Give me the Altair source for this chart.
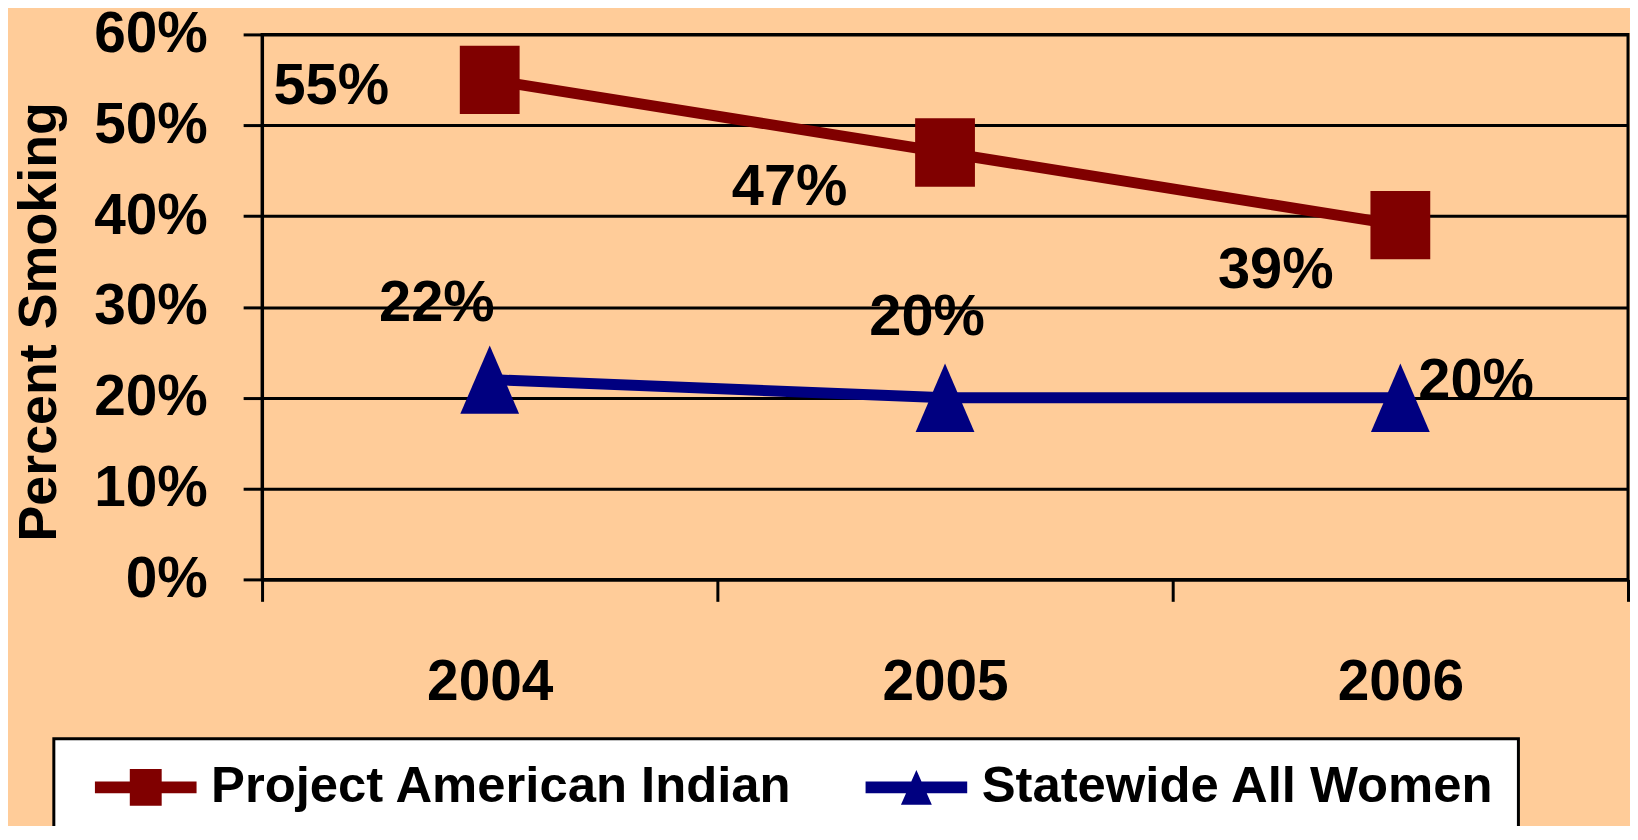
import altair as alt
import pandas as pd

years = ["2004", "2005", "2006"]
series_names = ["Project American Indian", "Statewide All Women"]
project_american_indian = [55, 47, 39]
statewide_all_women = [22, 20, 20]
series_colors = ["#800000", "#000080"]

rows = []
for s, vals in zip(series_names, [project_american_indian, statewide_all_women]):
    for y, v in zip(years, vals):
        rows.append({"Year": y, "Series": s, "Value": v / 100.0, "Label": f"{v}%"})
df = pd.DataFrame(rows)

FONT = "Liberation Sans"

marker_paths = [
    "M-0.875,-1 L0.875,-1 L0.875,1 L-0.875,1 Z",
    "M0,-1 L0.86,1 L-0.86,1 Z",
]
# legend symbols: line + marker (unit = 18.5 px); a degenerate subpath widens the bounds leftwards
legend_paths = [
    "M-3.676,0 L-3.676,0.001 Z "
    "M-2.757,-0.316 L2.757,-0.316 L2.757,0.316 L-2.757,0.316 Z "
    "M-0.865,-1 L0.865,-1 L0.865,1 L-0.865,1 Z",
    "M-3.676,0 L-3.676,0.001 Z "
    "M-2.757,-0.316 L2.757,-0.316 L2.757,0.316 L-2.757,0.316 Z "
    "M0,-0.946 L0.838,0.946 L-0.838,0.946 Z",
]
# label offsets (dx, dy) per series per year
label_offsets = [
    [(-159, 7), (-156, 36), (-125, 46)],
    [(-53, -76), (-18, -80), (76, -16)],
]

x_enc = alt.X(
    "Year:N",
    sort=years,
    scale=alt.Scale(type="band", paddingInner=0, paddingOuter=0),
    axis=alt.Axis(
        title=None,
        labelFont=FONT,
        labelFontSize=57,
        labelFontWeight="bold",
        labelColor="black",
        labelAngle=0,
        labelBaseline="alphabetic",
        labelPadding=99,
        tickBand="extent",
        tickSize=22,
        tickWidth=3,
        tickColor="black",
        domainColor="black",
        domainWidth=3,
        grid=False,
    ),
)
y_enc = alt.Y(
    "Value:Q",
    scale=alt.Scale(domain=[0, 0.6], nice=False),
    axis=alt.Axis(
        title="Percent Smoking",
        titleFont=FONT,
        titleFontSize=54,
        titleFontWeight="bold",
        titleColor="black",
        titleAngle=-90,
        titleAlign="center",
        titleBaseline="alphabetic",
        titleX=-207,
        titleY=288,
        values=[0, 0.1, 0.2, 0.3, 0.4, 0.5, 0.6],
        format=".0%",
        labelFont=FONT,
        labelFontSize=57,
        labelFontWeight="bold",
        labelColor="black",
        labelPadding=36,
        tickSize=19,
        tickWidth=3,
        tickColor="black",
        domainColor="black",
        domainWidth=3,
        grid=True,
        gridColor="black",
        gridWidth=3,
        gridOpacity=1,
    ),
)

base = alt.Chart(df)
layers = []
for i, s in enumerate(series_names):
    sub = base.transform_filter(alt.datum.Series == s)
    layers.append(
        sub.mark_line(color=series_colors[i], strokeWidth=11).encode(x=x_enc, y=y_enc)
    )
for i, s in enumerate(series_names):
    sub = base.transform_filter(alt.datum.Series == s)
    layers.append(
        sub.mark_point(
            shape=marker_paths[i], size=4706, filled=True, opacity=1,
            color=series_colors[i], strokeWidth=0,
        ).encode(x=x_enc, y=y_enc)
    )
for i, s in enumerate(series_names):
    for j, yr in enumerate(years):
        dx, dy = label_offsets[i][j]
        sub = base.transform_filter((alt.datum.Series == s) & (alt.datum.Year == yr))
        layers.append(
            sub.mark_text(
                font=FONT, fontSize=58, fontWeight="bold", color="black",
                dx=dx, dy=dy, align="center", baseline="middle",
            ).encode(x=x_enc, y=y_enc, text="Label:N")
        )

legend_def = alt.Legend(
    title=None,
    orient="none",
    legendX=-209,
    legendY=707,
    direction="horizontal",
    fillColor="white",
    strokeColor="black",
    padding=23,
    labelFont=FONT,
    labelFontSize=51,
    labelFontWeight="bold",
    labelColor="black",
    labelOffset=40,
    labelLimit=0,
    columnPadding=54.5,
    symbolOffset=43.75,
    symbolSize=1369,
    symbolStrokeWidth=0,
    symbolOpacity=1,
)

legend_layer = base.transform_filter("false").mark_point(
    filled=True, opacity=1, size=1369, strokeWidth=0
).encode(
    x=x_enc,
    y=y_enc,
    color=alt.Color(
        "Series:N",
        scale=alt.Scale(domain=series_names, range=series_colors),
        legend=legend_def,
    ),
    shape=alt.Shape(
        "Series:N",
        scale=alt.Scale(domain=series_names, range=legend_paths),
        legend=legend_def,
    ),
)
layers.append(legend_layer)

chart = (
    alt.layer(*layers)
    .properties(
        width=1371,
        height=547,
        background="#FFCC99",
        padding={"left": 255, "top": 25, "right": 2, "bottom": 246},
        autosize=alt.AutoSizeParams(type="none"),
    )
    .configure_view(stroke="black", strokeWidth=3, fill="#FFCC99")
    .configure_legend(strokeWidth=3)
)

chart.save("out.html", embed_options={"renderer": "svg", "actions": False})
